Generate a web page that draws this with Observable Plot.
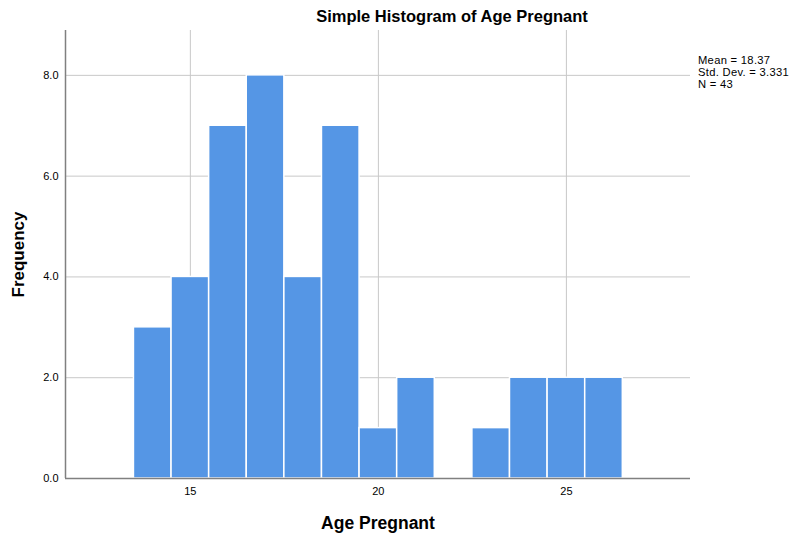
<!DOCTYPE html>
<html>
<head>
<meta charset="utf-8">
<script src="https://cdn.jsdelivr.net/npm/d3@7"></script>
<script src="https://cdn.jsdelivr.net/npm/@observablehq/plot@0.6"></script>
<style>
  body { margin: 0; background: #fff; font-family: "Liberation Sans", Arial, sans-serif; }
  #wrap { position: relative; width: 793px; height: 539px; }
  #title { position: absolute; top: 7px; left: 0; width: 904px; text-align: center; font-size: 16.5px; font-weight: bold; color: #000; }
  #stats { position: absolute; left: 698px; top: 54px; font-size: 11.2px; line-height: 12px; color: #000; letter-spacing: 0.3px; }
  #chart { position: absolute; left: 0; top: 0; }
</style>
</head>
<body>
<div id="wrap">
  <div id="chart"></div>
  <div id="title">Simple Histogram of Age Pregnant</div>
  <div id="stats">Mean = 18.37<br>Std. Dev. = 3.331<br>N = 43</div>
</div>
<script>
const binCenters = [14, 15, 16, 17, 18, 19, 20, 21, 22, 23, 24, 25, 26];
const counts = [3, 4, 7, 8, 4, 7, 1, 2, 0, 1, 2, 2, 2];
const binWidth = 1;
const xTicks = [15, 20, 25];
const yTicks = [0, 2, 4, 6, 8];

const bins = binCenters.map((c, i) => ({x1: c - binWidth / 2, x2: c + binWidth / 2, n: counts[i]}));

const chart = Plot.plot({
  width: 793,
  height: 539,
  marginLeft: 65,
  marginRight: 103,
  marginTop: 30,
  marginBottom: 61,
  style: {fontFamily: "'Liberation Sans', Arial, sans-serif", fontSize: "11px", color: "#000", background: "transparent"},
  x: {domain: [11.68, 28.3], ticks: xTicks, tickSize: 0, tickPadding: 9, label: null},
  y: {domain: [0, 8.89], ticks: yTicks, tickSize: 0, tickPadding: 7, tickFormat: d3.format(".1f"), label: null},
  marks: [
    Plot.gridX(xTicks, {stroke: "#c8c8c8", strokeOpacity: 1, strokeWidth: 1}),
    Plot.gridY(yTicks.filter(d => d > 0), {stroke: "#c8c8c8", strokeOpacity: 1, strokeWidth: 1}),
    Plot.rectY(bins, {x1: "x1", x2: "x2", y: "n", fill: "#5596e5", stroke: "#ffffff", strokeWidth: 1.5}),
    Plot.axisX({ticks: xTicks, tickSize: 0, tickPadding: 9, label: null}),
    Plot.axisY({ticks: yTicks, tickSize: 0, tickPadding: 7, tickFormat: d3.format(".1f"), label: null}),
    Plot.ruleX([11.68], {stroke: "#808080", strokeWidth: 1.5}),
    Plot.ruleY([0], {stroke: "#808080", strokeWidth: 1.5}),
    Plot.text(["Age Pregnant"], {frameAnchor: "bottom", dy: 50, fontSize: 17.5, fontWeight: "bold", fill: "#000"}),
    Plot.text(["Frequency"], {frameAnchor: "left", dx: -47, rotate: -90, textAnchor: "middle", fontSize: 17, fontWeight: "bold", fill: "#000"})
  ]
});
document.getElementById("chart").appendChild(chart);
</script>
</body>
</html>
